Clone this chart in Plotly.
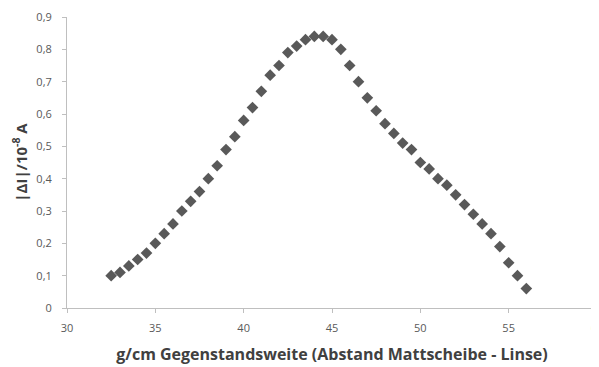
import plotly.graph_objects as go

x_cm = [32.5, 33.0, 33.5, 34.0, 34.5, 35.0, 35.5, 36.0, 36.5, 37.0, 37.5, 38.0,
        38.5, 39.0, 39.5, 40.0, 40.5, 41.0, 41.5, 42.0, 42.5, 43.0, 43.5, 44.0,
        44.5, 45.0, 45.5, 46.0, 46.5, 47.0, 47.5, 48.0, 48.5, 49.0, 49.5, 50.0,
        50.5, 51.0, 51.5, 52.0, 52.5, 53.0, 53.5, 54.0, 54.5, 55.0, 55.5, 56.0]
delta_i = [0.10, 0.11, 0.13, 0.15, 0.17, 0.20, 0.23, 0.26, 0.30, 0.33, 0.36, 0.40,
           0.44, 0.49, 0.53, 0.58, 0.62, 0.67, 0.72, 0.75, 0.79, 0.81, 0.83, 0.84,
           0.84, 0.83, 0.80, 0.75, 0.70, 0.65, 0.61, 0.57, 0.54, 0.51, 0.49, 0.45,
           0.43, 0.40, 0.38, 0.35, 0.32, 0.29, 0.26, 0.23, 0.19, 0.14, 0.10, 0.06]

x_ticks = [30, 35, 40, 45, 50, 55, 60]
y_ticks = [0, 0.1, 0.2, 0.3, 0.4, 0.5, 0.6, 0.7, 0.8, 0.9]
y_tick_labels = ["0", "0,1", "0,2", "0,3", "0,4", "0,5", "0,6", "0,7", "0,8", "0,9"]

FONT = "Open Sans, Liberation Sans, sans-serif"

fig = go.Figure()
fig.add_trace(go.Scatter(
    x=x_cm, y=delta_i, mode="markers",
    marker=dict(symbol="diamond", size=9, color="#595959", line=dict(width=0)),
    showlegend=False,
))

axis_common = dict(
    showgrid=False, zeroline=False, showline=True, linecolor="#BFBFBF", linewidth=1,
    ticks="outside", tickcolor="#BFBFBF", ticklen=4, tickwidth=1, automargin=False,
    ticklabeloverflow="allow",
    tickfont=dict(family=FONT, size=11, color="#595959"),
)

# page body has an 8px default margin, so the figure is sized to the visible area
fig.update_layout(
    width=591, height=359,
    margin=dict(l=59, r=2, t=9, b=59),
    paper_bgcolor="white", plot_bgcolor="white",
    separators=", ",
    xaxis=dict(range=[30, 60], tickvals=x_ticks, ticklabelstandoff=6,
               title=dict(text="<b>g/cm Gegenstandsweite (Abstand Mattscheibe - Linse)</b>",
                          font=dict(family=FONT, size=16, color="#404040"),
                          standoff=14),
               **axis_common),
    yaxis=dict(range=[0, 0.9], tickvals=y_ticks, ticktext=y_tick_labels, ticklabelstandoff=8,
               title=dict(text="<b>|ΔI|/10<sup>-8</sup> A</b>",
                          font=dict(family=FONT, size=15, color="#404040"),
                          standoff=5),
               **axis_common),
)

fig.write_html("out.html")
